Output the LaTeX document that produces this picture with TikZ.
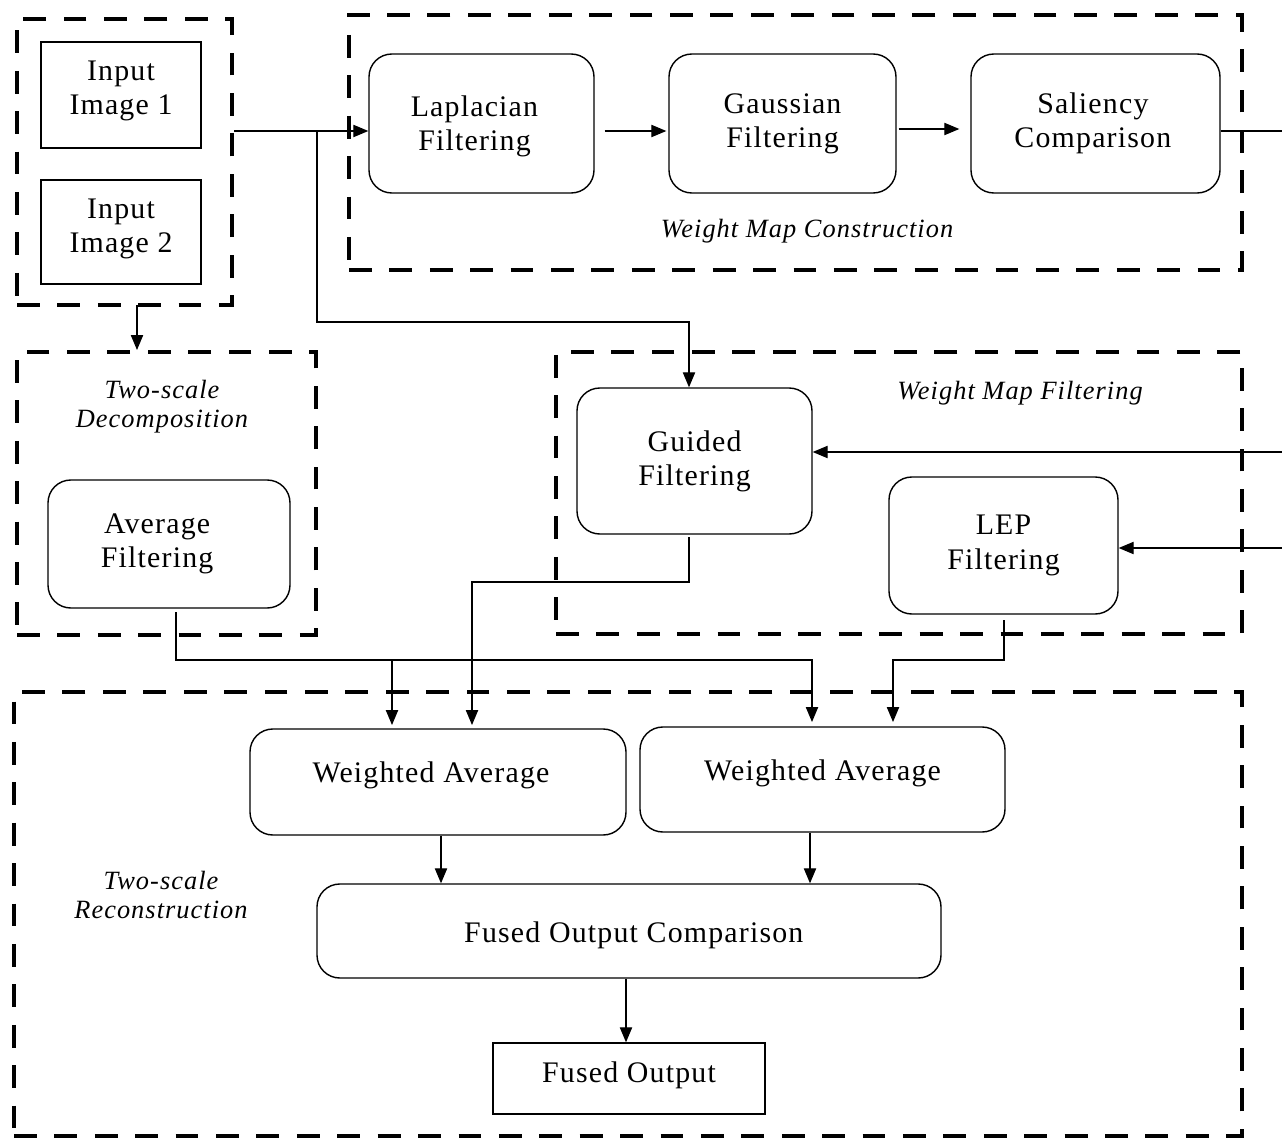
\documentclass[tikz,border=0pt]{standalone}
\usepackage{fontspec}
\setmainfont{Liberation Serif}[LetterSpace=4]
\usetikzlibrary{arrows.meta,calc}
\newcommand{\padr}[1]{\hspace*{#1}}
\tikzset{
 wh/.style 2 args={minimum width=#1*0.02cm, minimum height=#2*0.02cm},
 grp/.style={draw, line width=2.3pt, dash pattern=on 13pt off 10pt, inner sep=0pt},
 txt/.style={font=\fontsize{17}{19.5}\selectfont, align=center, inner sep=0pt},
 rbox/.style={txt, draw, line width=0.8pt, rounded corners=13pt},
 sbox/.style={txt, draw, line width=0.8pt},
 lbl/.style={font=\fontsize{15}{16.5}\selectfont\itshape, align=center, inner sep=0pt},
 ln/.style={line width=0.6pt},
 arr/.style={ln, -{Triangle[length=8.5pt,width=7pt]}},
}
\begin{document}
\begin{tikzpicture}[x=0.02cm,y=-0.02cm]
\useasboundingbox (0,0) rectangle (1282,1139);

% dashed groups
\node[grp, wh={215}{286}] (ingrp) at (124.5,162) {};
\node[grp, wh={893}{255}] (wmc) at (795.5,142.5) {};
\node[grp, wh={299}{283}] (dec) at (166.5,493.5) {};
\node[grp, wh={686}{282}] (wmf) at (899,493) {};
\node[grp, wh={1228}{444}] (rec) at (628,914) {};

% group labels
\node[lbl] (lwmc) at (807,231) {Weight Map Construction};
\node[lbl] (lwmf) at (1020,393) {Weight Map Filtering};
\node[lbl] (ldec) at (162,407) {Two-scale\\Decomposition};
\node[lbl] (lrec) at (161,895) {Two-scale\\Reconstruction};

% boxes
\node[sbox, wh={160}{106}, text depth=8pt] (in1) at (121,95) {Input\\Image 1};
\node[sbox, wh={160}{104}, text depth=7pt] (in2) at (121,232) {Input\\Image 2};
\node[rbox, wh={225}{139}, text depth=0pt] (lap) at (481.5,123.5) {Laplacian\padr{8pt}\\Filtering\padr{8pt}};
\node[rbox, wh={227}{139}] (gau) at (782.5,123.5) {Gaussian\\Filtering};
\node[rbox, wh={249}{139}] (sal) at (1095.5,123.5) {Saliency\padr{3pt}\\Comparison\padr{3pt}};
\node[rbox, wh={242}{128}] (avg) at (169,544) {Average\padr{13.5pt}\\Filtering\padr{13.5pt}};
\node[rbox, wh={235}{146}] (gui) at (694.5,461) {Guided\\Filtering};
\node[rbox, wh={229}{137}] (lep) at (1003.5,545.5) {LEP\\Filtering};
\node[rbox, wh={376}{106}, text depth=11.5pt] (wa1) at (438,782) {Weighted Average\padr{8pt}};
\node[rbox, wh={365}{105}, text depth=10.5pt] (wa2) at (822.5,779.5) {Weighted Average};
\node[rbox, wh={624}{94}, text height=17pt] (foc) at (629,931) {\padr{5.5pt}Fused Output Comparison};
\node[sbox, wh={272}{71}, text depth=7pt] (fo) at (629,1078.5) {Fused Output};

% free ends and bends
\coordinate (b1) at (317,131);
\coordinate (sout) at (1282,131);
\coordinate (gin) at (1282,452);
\coordinate (lin) at (1282,548);
\coordinate (d1) at (137,305);
\coordinate (a1) at (176,612);
\coordinate (g1) at (689,537);
\coordinate (e1) at (1004,620);

% connectors
\draw[arr] (ingrp.east |- b1) -- (lap.west |- b1);
\draw[arr] (b1) |- (689,322) -- (gui.north -| g1);
\draw[arr] ($(lap.east)+(10,7.5)$) -- ($(gau.west)+(-2,7.5)$);
\draw[arr] ($(gau.east)+(2,5.5)$) -- ($(sal.west)+(-11,5.5)$);
\draw[ln] (sal.east |- sout) -- (sout);
\draw[arr] (gin) -- (gin -| gui.east);
\draw[arr] (lin) -- (lin -| lep.east);
\draw[arr] (d1) -- (d1 |- dec.north);

\draw[arr] (a1) |- (812,660) -- (812,722);
\draw[arr] (392,660) -- (392,725);
\draw[arr] (g1) |- (472,582) -- (472,725);
\draw[arr] (e1) |- (893,660) -- (893,722);

\draw[arr] (wa1.south -| 441,0) -- (foc.north -| 441,0);
\draw[arr] (wa2.south -| 810,0) -- (foc.north -| 810,0);
\draw[arr] (foc.south -| 626,0) -- (fo.north -| 626,0);
\end{tikzpicture}
\end{document}
